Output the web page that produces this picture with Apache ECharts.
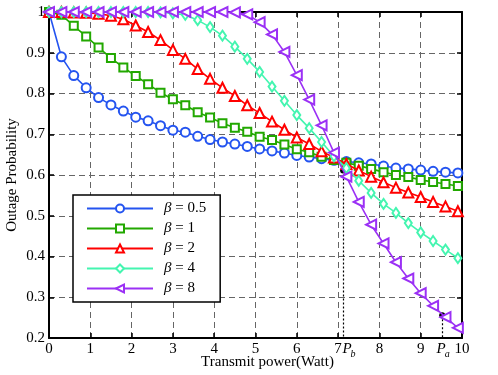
<!DOCTYPE html>
<html lang="en">
<head>
    <meta charset="UTF-8">
    <title>Outage Probability</title>
    <script type="text/javascript" src="https://cdn.jsdelivr.net/npm/echarts@6/dist/echarts.min.js"></script>
    <style>
        html, body { margin: 0; padding: 0; background: #fff; }
    </style>
</head>
<body>
<div id="myChart" style="width:498px;height:375px;"></div>
<script type="text/javascript">
    // transmit power samples (Watt)
    var xs = [0, 0.3, 0.6, 0.9, 1.2, 1.5, 1.8, 2.1, 2.4, 2.7, 3.0, 3.3, 3.6, 3.9, 4.2, 4.5, 4.8,
              5.1, 5.4, 5.7, 6.0, 6.3, 6.6, 6.9, 7.2, 7.5, 7.8, 8.1, 8.4, 8.7, 9.0, 9.3, 9.6, 9.9];
    // outage probability for each beta
    var beta05 = [1.0, 0.890, 0.844, 0.814, 0.790, 0.772, 0.757, 0.742, 0.733, 0.721, 0.710, 0.705,
                  0.695, 0.687, 0.681, 0.676, 0.670, 0.664, 0.659, 0.654, 0.648, 0.644, 0.640, 0.636,
                  0.633, 0.630, 0.627, 0.622, 0.617, 0.615, 0.612, 0.609, 0.607, 0.605];
    var beta1 = [1.0, 0.993, 0.966, 0.940, 0.913, 0.887, 0.864, 0.843, 0.823, 0.802, 0.786, 0.771,
                 0.754, 0.741, 0.727, 0.716, 0.706, 0.694, 0.686, 0.675, 0.663, 0.656, 0.645, 0.637,
                 0.630, 0.623, 0.615, 0.607, 0.600, 0.595, 0.588, 0.583, 0.578, 0.573];
    var beta2 = [1.0, 1.0, 0.999, 0.998, 0.996, 0.991, 0.982, 0.967, 0.951, 0.931, 0.907, 0.885,
                 0.860, 0.836, 0.814, 0.794, 0.771, 0.752, 0.731, 0.711, 0.692, 0.676, 0.658, 0.643,
                 0.627, 0.611, 0.596, 0.582, 0.569, 0.557, 0.546, 0.534, 0.523, 0.511];
    var beta4 = [1.0, 1.0, 1.0, 1.0, 1.0, 1.0, 1.0, 1.0, 1.0, 0.999, 0.997, 0.993,
                 0.980, 0.963, 0.942, 0.915, 0.885, 0.853, 0.817, 0.782, 0.747, 0.715, 0.681, 0.646,
                 0.617, 0.586, 0.556, 0.529, 0.507, 0.482, 0.459, 0.438, 0.417, 0.396];
    var beta8 = [1.0, 1.0, 1.0, 1.0, 1.0, 1.0, 1.0, 1.0, 1.0, 1.0, 1.0, 1.0,
                 1.0, 1.0, 1.0, 0.999, 0.994, 0.975, 0.945, 0.902, 0.845, 0.785, 0.722, 0.655,
                 0.596, 0.534, 0.478, 0.432, 0.386, 0.346, 0.310, 0.279, 0.251, 0.225];
    var names = ['β = 0.5', 'β = 1', 'β = 2', 'β = 4', 'β = 8'];
    var colors = ['#2454f0', '#22a800', '#ff0000', '#44f5b0', '#9b30f5'];
    // marked points P_b and P_a
    var pb = [7.12, 0.611];
    var pa = [9.52, 0.256];

    var font = 'Liberation Serif';

    function pairs(ys) {
        var out = [];
        for (var i = 0; i < xs.length; i++) out.push([xs[i], ys[i]]);
        return out;
    }

    var symbols = [
        {symbol: 'emptyCircle', size: 9, rotate: 0},
        {symbol: 'emptyRect', size: 8, rotate: 0},
        {symbol: 'emptyTriangle', size: 10, rotate: 0},
        {symbol: 'emptyDiamond', size: [7, 10], rotate: 0},
        {symbol: 'emptyTriangle', size: 10, rotate: 90}
    ];
    var allData = [beta05, beta1, beta2, beta4, beta8];

    var series = [];
    for (var k = 0; k < 5; k++) {
        series.push({
            name: names[k],
            type: 'line',
            data: pairs(allData[k]),
            symbol: symbols[k].symbol,
            symbolSize: symbols[k].size,
            symbolRotate: symbols[k].rotate,
            showAllSymbol: true,
            lineStyle: {color: colors[k], width: 1.6},
            itemStyle: {color: colors[k], borderColor: colors[k], borderWidth: 1.5},
            animation: false,
            z: 3 + k
        });
    }

    // dashed drop lines, dots and P labels
    var subLabel = function (txt, dx, dy, size) {
        return {
            show: true, position: 'inside', offset: [dx, dy], formatter: txt,
            color: '#000', fontFamily: font, fontStyle: 'italic', fontSize: size
        };
    };
    series.push({
        name: 'marks',
        type: 'line',
        data: [],
        silent: true,
        animation: false,
        z: 10,
        markLine: {
            symbol: ['none', 'none'],
            silent: true,
            animation: false,
            label: {show: false},
            lineStyle: {color: '#000', type: [2, 2], width: 1.2},
            data: [
                [{coord: [pb[0], pb[1]]}, {coord: [pb[0], 0.2]}],
                [{coord: [pa[0], pa[1]]}, {coord: [pa[0], 0.2]}]
            ]
        },
        markPoint: {
            silent: true,
            animation: false,
            data: [
                {coord: pb, symbol: 'circle', symbolSize: 6, itemStyle: {color: '#000'}, label: {show: false}},
                {coord: pa, symbol: 'circle', symbolSize: 6, itemStyle: {color: '#000'}, label: {show: false}},
                {coord: [pb[0], 0.2], symbolSize: 0, label: subLabel('P', 4, 11, 15)},
                {coord: [pb[0], 0.2], symbolSize: 0, label: subLabel('b', 10, 16, 10)},
                {coord: [pa[0], 0.2], symbolSize: 0, label: subLabel('P', -1, 11, 15)},
                {coord: [pa[0], 0.2], symbolSize: 0, label: subLabel('a', 5, 16, 10)}
            ]
        }
    });

    var frameLine = {show: true, onZero: false, lineStyle: {color: '#000', width: 2}};
    var frameTick = {show: true, inside: true, length: 5, lineStyle: {color: '#000', width: 1.5}};
    var dashed = {show: true, lineStyle: {color: '#666', type: [6, 4], width: 1}};

    var myChart = echarts.init(document.getElementById('myChart'));
    var option = {
        backgroundColor: '#fff',
        animation: false,
        grid: {left: 49, right: 36, top: 12, bottom: 37, containLabel: false, outerBoundsMode: 'none'},
        legend: {
            data: names,
            orient: 'vertical',
            left: 73,
            top: 195,
            itemWidth: 66,
            itemHeight: 10,
            itemGap: 5,
            padding: [6, 14, 6, 13],
            backgroundColor: '#fff',
            borderColor: '#000',
            borderWidth: 1.5,
            borderRadius: 0,
            formatter: function (n) {
                return '{i|β}{t|' + n.slice(1) + '}';
            },
            textStyle: {
                color: '#000',
                fontFamily: font,
                fontSize: 15,
                rich: {
                    i: {fontFamily: font, fontStyle: 'italic', fontSize: 15, color: '#000', padding: [0, 0, 0, 6]},
                    t: {fontFamily: font, fontSize: 15, color: '#000'}
                }
            }
        },
        xAxis: [
            {
                type: 'value',
                min: 0,
                max: 10,
                interval: 1,
                position: 'bottom',
                name: 'Transmit power(Watt)',
                nameLocation: 'middle',
                nameGap: 17,
                nameMoveOverlap: false,
                nameTextStyle: {color: '#000', fontFamily: font, fontSize: 15, padding: [0, 0, 0, 24]},
                axisLine: frameLine,
                axisTick: frameTick,
                axisLabel: {color: '#000', fontFamily: font, fontSize: 15, margin: 4},
                splitLine: dashed
            },
            {
                type: 'value',
                min: 0,
                max: 10,
                interval: 1,
                position: 'top',
                axisLine: frameLine,
                axisTick: frameTick,
                axisLabel: {show: false},
                splitLine: {show: false}
            }
        ],
        yAxis: [
            {
                type: 'value',
                min: 0.2,
                max: 1,
                interval: 0.1,
                position: 'left',
                name: 'Outage Probability',
                nameLocation: 'middle',
                nameGap: 29,
                nameMoveOverlap: false,
                nameTextStyle: {color: '#000', fontFamily: font, fontSize: 15},
                axisLine: frameLine,
                axisTick: frameTick,
                axisLabel: {
                    color: '#000', fontFamily: font, fontSize: 15, margin: 4,
                    formatter: function (v) { return v >= 0.999 ? '1' : v.toFixed(1); }
                },
                splitLine: dashed
            },
            {
                type: 'value',
                min: 0.2,
                max: 1,
                interval: 0.1,
                position: 'right',
                axisLine: frameLine,
                axisTick: frameTick,
                axisLabel: {show: false},
                splitLine: {show: false}
            }
        ],
        series: series
    };
    myChart.setOption(option);
</script>
</body>
</html>
